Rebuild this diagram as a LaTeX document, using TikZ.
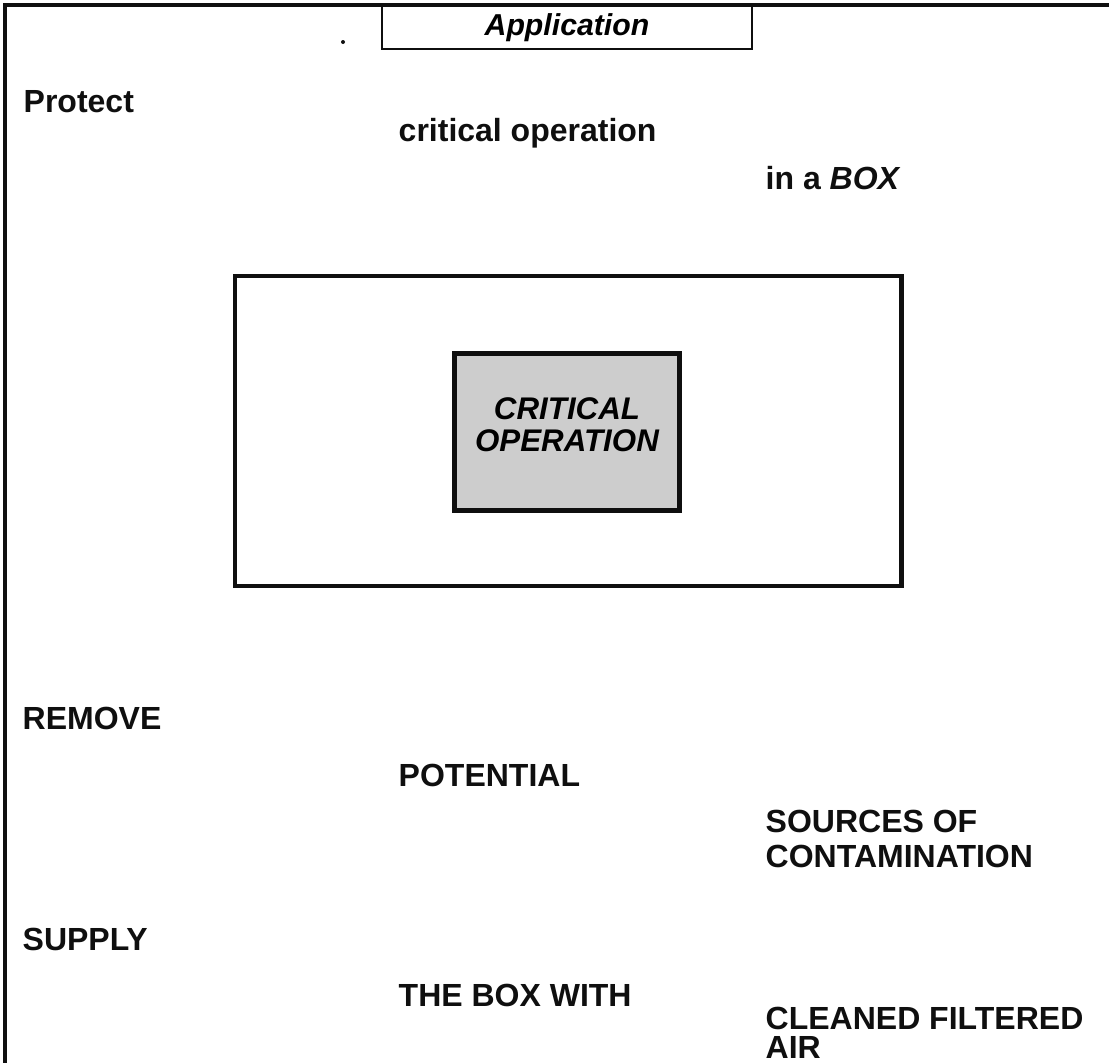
\documentclass[tikz,border=0pt]{standalone}
\usepackage{fontspec}
\setmainfont{Liberation Sans}
\usetikzlibrary{positioning}
\definecolor{mydark}{RGB}{15,15,15}
\definecolor{myshade}{RGB}{205,205,205}
\tikzset{
  txt/.style={anchor=base west, inner sep=0pt, align=left,
    font=\fontsize{9.1}{9.7}\selectfont\bfseries, color=mydark},
  titlebox/.style={rectangle, draw=mydark, line width=0.7pt,
    minimum width=3.7cm, minimum height=0.43cm, inner sep=0pt,
    font=\fontsize{8.6}{9}\selectfont\bfseries\itshape},
  bigbox/.style={rectangle, draw=mydark, line width=1.2pt,
    minimum width=6.66cm, minimum height=3.1cm},
  critbox/.style={rectangle, draw=mydark, fill=myshade, line width=1.4pt,
    minimum width=2.25cm, minimum height=1.57cm},
  crittxt/.style={align=center, inner sep=0pt,
    font=\fontsize{8.9}{9.2}\selectfont\bfseries\itshape},
  frame/.style={line width=0.9pt, color=mydark}
}

\begin{document}
\begin{tikzpicture}[x=0.01cm, y=-0.01cm]
  \useasboundingbox (0,0) rectangle (1109,1063);
  % Outer frame
  \draw[frame] (1109,5) -- (5,5) -- (5,1063);

  % Title
  \node[titlebox, anchor=north] (title) at (567,5) {Application};
  \fill[mydark] (343,42) circle (2);

  % Protect ... in a BOX
  \node[txt] (protect) at (23,112) {Protect};
  \node[txt] (critop) at (398,141) {critical operation};
  \node[txt] (inbox) at (765,189) {in a \textit{BOX}};

  % Box around the critical operation
  \node[bigbox, anchor=north west] (box) at (233,274) {};
  \node[critbox] (crit) at (567,432) {};
  \node[crittxt, yshift=0.075cm] (crittext) at (crit.center) {CRITICAL\\OPERATION};

  % Remove
  \node[txt] (remove) at (22,729) {REMOVE};
  \node[txt] (potential) at (398,786) {POTENTIAL};
  \node[txt] (sources) at (765,867) {SOURCES OF\\CONTAMINATION};

  % Supply
  \node[txt] (supply) at (22,950) {SUPPLY};
  \node[txt] (boxwith) at (398,1006) {THE BOX WITH};
  \node[txt, font=\fontsize{9.1}{8}\selectfont\bfseries] (cleaned) at (765,1058) {CLEANED FILTERED\\AIR};
\end{tikzpicture}
\end{document}
